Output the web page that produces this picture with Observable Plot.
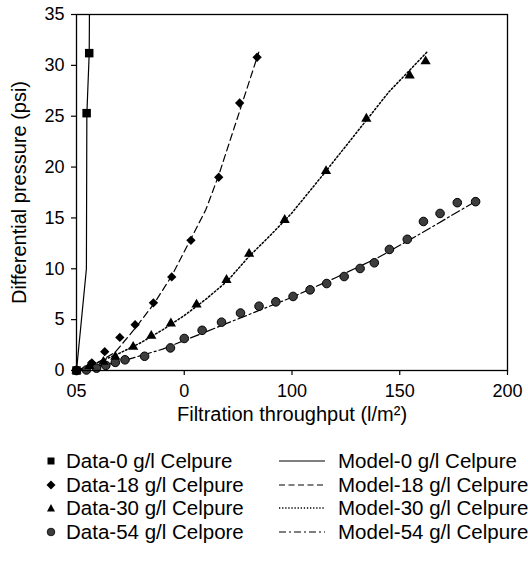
<!DOCTYPE html>
<html><head><meta charset="utf-8">
<script src="https://cdn.jsdelivr.net/npm/d3@7"></script>
<script src="https://cdn.jsdelivr.net/npm/@observablehq/plot@0.6"></script>
<style>
body{margin:0;background:#fff;font-family:"Liberation Sans",Arial,sans-serif;}
#wrap{position:relative;width:528px;height:564px;overflow:hidden;background:#fff;}
#wrap svg.plot{display:block;}
g[aria-label="x-axis label"] text, g[aria-label="y-axis label"] text{font-size:20px;}
.leg{position:absolute;height:20px;font-size:20.5px;line-height:20px;white-space:nowrap;display:flex;align-items:center;color:#000;}
.leg svg{flex:none;}
</style></head><body><div id="wrap"></div>
<script>
// ---- Data ----
const xTicks = [0, 50, 100, 150, 200];
const xTickLabels = ["05", "0", "100", "150", "200"];
const yTicks = [0, 5, 10, 15, 20, 25, 30, 35];

const data0X = [0, 4.7, 5.9];
const data0Y = [0, 25.3, 31.2];

const data18X = [0, 7.1, 13.1, 20.1, 27.2, 35.7, 44.2, 53.1, 66.0, 75.7, 83.8];
const data18Y = [0, 0.75, 1.85, 3.25, 4.5, 6.65, 9.2, 12.8, 19.0, 26.3, 30.8];

const data30X = [0, 6, 12.5, 18, 26.3, 34.7, 43.8, 55.7, 69.6, 80.1, 96.6, 115.8, 134.5, 154.6, 162];
const data30Y = [0, 0.45, 0.85, 1.35, 2.33, 3.4, 4.62, 6.48, 8.9, 11.47, 14.8, 19.6, 24.75, 29.0, 30.4];

const data54X = [0, 4.6, 9.3, 13.6, 18, 22.5, 31.6, 43.6, 50, 58.3, 67.3, 76.1, 84.7, 92.5, 100.5, 108.4, 116.1, 124.2, 131.6, 138.2, 145.2, 153.5, 161, 168.7, 176.7, 185.2];
const data54Y = [0, 0.05, 0.23, 0.5, 0.8, 1.05, 1.4, 2.22, 3.15, 3.95, 4.75, 5.65, 6.32, 6.75, 7.28, 7.93, 8.55, 9.24, 10.03, 10.59, 11.9, 12.9, 14.65, 15.44, 16.5, 16.6];

const model0X = [0, 4.6, 4.8, 5.9, 6.0];
const model0Y = [0, 10, 25.2, 31.2, 35];

const model18X = [0, 10, 18, 27.4, 35.9, 44.2, 53.2, 60, 66, 75.7, 84.6];
const model18Y = [0, 0.8, 1.8, 4.2, 6.55, 9.3, 13.0, 15.8, 19.2, 25.5, 31.3];

const model30X = [0, 10, 20, 30, 40, 50, 60, 70, 80, 90, 100, 115, 130, 145, 162.6];
const model30Y = [0, 0.8, 1.7, 2.75, 4.0, 5.4, 7.0, 8.8, 11.2, 13.3, 15.5, 19.4, 23.4, 27.4, 31.3];

const model54X = [0, 20, 40, 60, 80, 100, 120, 140, 160, 185];
const model54Y = [0, 0.85, 2.1, 3.8, 5.5, 7.2, 9.1, 11.1, 13.5, 16.6];

const dataLabels = ["Data-0 g/l Celpure", "Data-18 g/l Celpure", "Data-30 g/l Celpure", "Data-54 g/l Celpore"];
const modelLabels = ["Model-0 g/l Celpure", "Model-18 g/l Celpure", "Model-30 g/l Celpure", "Model-54 g/l Celpure"];

// ---- build tables ----
const rows = (xs, ys) => xs.map((x, i) => ({x, y: ys[i]}));
const d0 = rows(data0X, data0Y), d18 = rows(data18X, data18Y), d30 = rows(data30X, data30Y), d54 = rows(data54X, data54Y);
const m0 = rows(model0X, model0Y), m18 = rows(model18X, model18Y), m30 = rows(model30X, model30Y), m54 = rows(model54X, model54Y);

const dashes = ["none", "7,4", "1.6,2.2", "9,3,2,3"];
const lw = 1.2;

const chart = Plot.plot({
  width: 528, height: 430,
  marginLeft: 76, marginRight: 21, marginTop: 14, marginBottom: 60,
  style: {fontFamily: "'Liberation Sans', Arial, sans-serif", fontSize: "18px", color: "black", background: "white", overflow: "visible"},
  x: {domain: [0, 200]},
  y: {domain: [0, 35]},
  marks: [
    Plot.axisX({ticks: xTicks, tickFormat: (d) => xTickLabels[xTicks.indexOf(d)], tickSize: 5, tickPadding: 9, stroke: "black", strokeWidth: 1.2,
      label: "Filtration throughput (l/m²)", labelAnchor: "center", labelOffset: 50, labelArrow: "none"}),
    Plot.axisY({ticks: yTicks, tickSize: 5, tickPadding: 7, stroke: "black", strokeWidth: 1.2,
      label: "Differential pressure (psi)", labelAnchor: "center", labelOffset: 65, labelArrow: "none"}),
    Plot.line(m0, {x: "x", y: "y", stroke: "black", strokeWidth: lw, clip: true}),
    Plot.line(m18, {x: "x", y: "y", stroke: "black", strokeWidth: lw, strokeDasharray: dashes[1], clip: true}),
    Plot.line(m30, {x: "x", y: "y", stroke: "black", strokeWidth: 1.5, strokeDasharray: dashes[2], clip: true}),
    Plot.line(m54, {x: "x", y: "y", stroke: "black", strokeWidth: lw, strokeDasharray: dashes[3], clip: true}),
    Plot.dot(d54, {x: "x", y: "y", r: 4.3, fill: "#3d3d3d", stroke: "black", strokeWidth: 1}),
    Plot.dot(d30, {x: "x", y: "y", symbol: "triangle", r: 3.8, fill: "black", stroke: "none"}),
    Plot.dot(d18, {x: "x", y: "y", symbol: "diamond2", r: 4.2, fill: "black", stroke: "none"}),
    Plot.dot(d0, {x: "x", y: "y", symbol: "square", r: 4.8, fill: "black", stroke: "none"}),
    Plot.frame({stroke: "black", strokeWidth: 1.3})
  ]
});
const wrap = document.getElementById("wrap");
wrap.appendChild(chart);

// ---- legend (HTML below the SVG) ----
const rowCenters = [461, 484.5, 508, 531.5];
const markerSvgs = [
  '<rect x="3.5" y="3.5" width="7" height="7" fill="black"/>',
  '<path d="M7,2.5 L11.5,7 L7,11.5 L2.5,7 Z" fill="black"/>',
  '<path d="M7,3 L11,10.5 L3,10.5 Z" fill="black"/>',
  '<circle cx="7" cy="7" r="3.8" fill="#3d3d3d" stroke="black" stroke-width="0.8"/>'
];
dataLabels.forEach((lab, i) => {
  const el = document.createElement("div");
  el.className = "leg";
  el.style.left = "44px";
  el.style.top = (rowCenters[i] - 10) + "px";
  el.innerHTML = '<svg width="14" height="14" viewBox="0 0 14 14">' + markerSvgs[i] + '</svg><span style="margin-left:8px">' + lab + '</span>';
  wrap.appendChild(el);
});
modelLabels.forEach((lab, i) => {
  const el = document.createElement("div");
  el.className = "leg";
  el.style.left = "279px";
  el.style.top = (rowCenters[i] - 10) + "px";
  const sw = i === 2 ? 1.5 : 1.2;
  const da = dashes[i] === "none" ? "" : ' stroke-dasharray="' + (i === 1 ? "6,3.5" : i === 3 ? "7,3,2,3" : "1.3,1.8") + '"';
  el.innerHTML = '<svg width="46" height="14" viewBox="0 0 46 14"><line x1="0" y1="7" x2="46" y2="7" stroke="black" stroke-width="' + sw + '"' + da + '/></svg><span style="margin-left:13px">' + lab + '</span>';
  wrap.appendChild(el);
});
</script>
</body></html>
